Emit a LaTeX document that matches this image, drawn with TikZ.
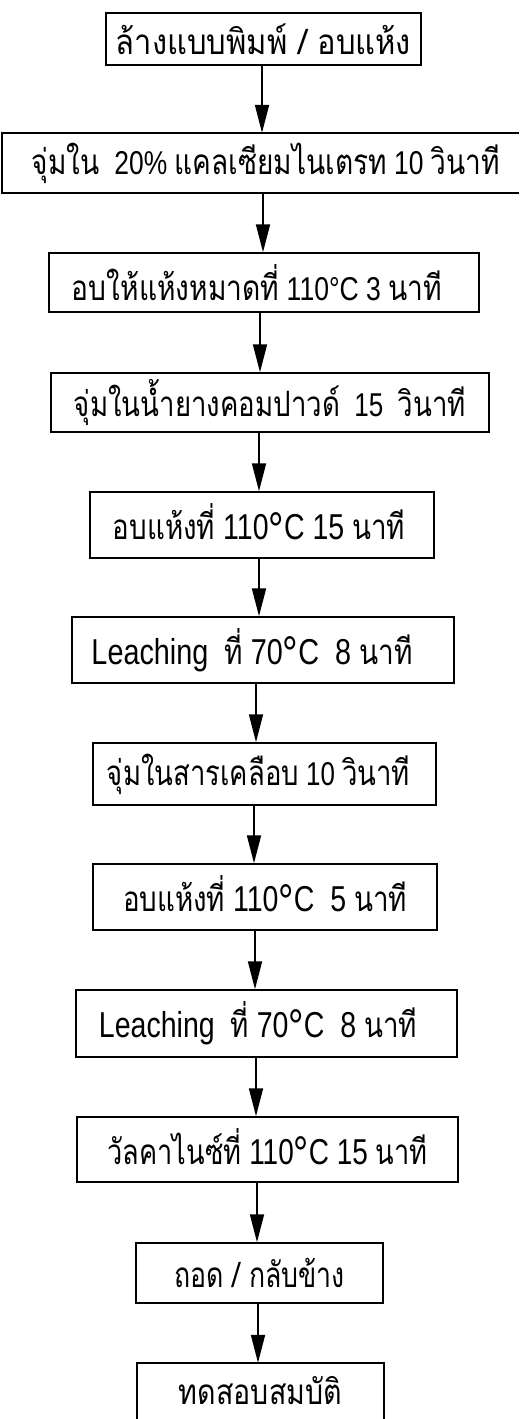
\documentclass[tikz,border=0pt]{standalone}
\usepackage{fontspec}
\usepackage{graphicx}
\setmainfont{Liberation Sans}
\newfontfamily\thaifont[Script=Thai]{Loma}
\usetikzlibrary{arrows.meta}
\newcommand{\T}[1]{{\thaifont\fontsize{35}{38}\selectfont #1}}
\newcommand{\dg}{\raisebox{-0.17em}{\scalebox{1.35}{°}}}
\newcommand{\fit}[2]{\resizebox{#1pt}{\height}{#2}}
\newcommand{\smallfs}{\fontsize{33}{36}\selectfont}
\newcommand{\bigfs}{\fontsize{36}{40}\selectfont}
\begin{document}
\begin{tikzpicture}[x=1pt,y=-1pt,
  box/.style args={#1/#2}{draw, line width=1.5pt, inner sep=0pt,
    minimum width=#1pt, minimum height=#2pt, font=\smallfs},
  openbox/.style args={#1/#2}{inner sep=0pt,
    minimum width=#1pt, minimum height=#2pt, font=\smallfs},
  edge/.style={line width=1.5pt},
  arr/.style={line width=1.8pt, -{Triangle[length=28pt,width=14pt]}, shorten >=0pt}]
\useasboundingbox (0,0) rectangle (520,1419);
\fill[white] (0,0) rectangle (520,1419);
\node[box={315/52}] (b1) at (263.5,39) {\fit{295}{\T{ล้างแบบพิมพ์ / อบแห้ง}}};
\node[openbox={517/60}] (b2) at (260.5,163) {\hspace*{11pt}\fit{468}{\T{จุ่มใน}\ \ 20\% \T{แคลเซียมไนเตรท} 10 \T{วินาที}}};
\draw[edge] (b2.north east) -| (b2.south west) -- (b2.south east);
\node[box={430/59}] (b3) at (264,282.5) {\fit{370}{\T{อบให้แห้งหมาดที่} 110°C 3 \T{นาที}}\hspace*{14pt}};
\node[box={438/59}] (b4) at (270,402.5) {\fit{392}{\T{จุ่มในน้ำยางคอมปาวด์}\ \ 15\ \ \T{วินาที}}};
\node[box={344/66}] (b5) at (262,525) {\bigfs\fit{292}{\T{อบแห้งที่} 110\dg C 15 \T{นาที}}\hspace*{6pt}};
\node[box={382/66}] (b6) at (263,650) {\bigfs\fit{321}{Leaching\ \ \T{ที่} 70\dg C\ \ 8 \T{นาที}}\hspace*{22pt}};
\node[box={343/62}] (b7) at (264.5,774) {\fit{303}{\T{จุ่มในสารเคลือบ} 10 \T{วินาที}}\hspace*{12pt}};
\node[box={344/66}] (b8) at (265,897) {\bigfs\fit{284}{\T{อบแห้งที่} 110\dg C\ \ 5 \T{นาที}}};
\node[box={381/67}] (b9) at (266.5,1023.5) {\bigfs\fit{318}{Leaching\ \ \T{ที่} 70\dg C\ \ 8 \T{นาที}}\hspace*{17pt}};
\node[box={381/65}] (b10) at (267.5,1149.5) {\bigfs\fit{320}{\T{วัลคาไนซ์ที่} 110\dg C 15 \T{นาที}}};
\node[box={247/60}] (b11) at (259.5,1273) {\fit{171}{\T{ถอด / กลับข้าง}}};
\node[openbox={247/56}] (b12) at (260.5,1391) {\raisebox{-2pt}{\fit{163}{\T{ทดสอบสมบัติ}}}};
\draw[edge] (b12.south west) |- (b12.north east) -- (b12.south east);
\draw[arr] (b1.south -| 262,0) -- (b2.north -| 262,0);
\draw[arr] (b2.south -| 263,0) -- (b3.north -| 263,0);
\draw[arr] (b3.south -| 260,0) -- (b4.north -| 260,0);
\draw[arr] (b4.south -| 259,0) -- (b5.north -| 259,0);
\draw[arr] (b5.south -| 259,0) -- (b6.north -| 259,0);
\draw[arr] (b6.south -| 256,0) -- (b7.north -| 256,0);
\draw[arr] (b7.south -| 254,0) -- (b8.north -| 254,0);
\draw[arr] (b8.south -| 255,0) -- (b9.north -| 255,0);
\draw[arr] (b9.south -| 256,0) -- (b10.north -| 256,0);
\draw[arr] (b10.south -| 257,0) -- (b11.north -| 257,0);
\draw[arr] (b11.south -| 258,0) -- (b12.north -| 258,0);
\end{tikzpicture}
\end{document}
